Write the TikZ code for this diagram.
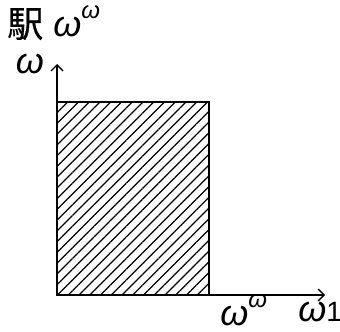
\documentclass[tikz,border=0pt]{standalone}
\usepackage{fontspec}
\setmainfont{Liberation Sans}
\newfontfamily\jpfont[FakeBold=0.6]{Noto Sans CJK JP}
\usetikzlibrary{arrows.meta,patterns.meta}
\newcommand{\om}{{\itshape ω}}
\newcommand{\omup}[1]{\om\raisebox{0.5em}{\fontsize{12}{12}\selectfont\itshape #1}}

\begin{document}
\begin{tikzpicture}[x=0.5pt,y=-0.5pt,
  lab/.style={font=\fontsize{18}{21}\selectfont,inner sep=0pt},
  hatch/.style={pattern={Lines[angle=45,distance=3.8pt,line width=0.6pt]}},
  ax/.style={-{Straight Barb[length=3pt]},line width=0.7pt}]
\useasboundingbox (0,0) rectangle (340,331);
\coordinate (o) at (57,295);
\coordinate (xe) at (325,295);
\coordinate (ye) at (57,64);
\coordinate (c) at (209,102);
\draw[hatch,line width=0.6pt] (o) rectangle (c);
\draw[ax] (o) -- (xe);
\draw[ax] (o) -- (ye);
\node[lab,anchor=base west] (title) at (7,37) {{\jpfont 駅} \omup{ω}};
\node[lab,anchor=base] (ylab) at (30,74) {\om};
\node[lab,anchor=base west] (xlab1) at (220,325) {\omup{ω}};
\node[lab,anchor=base west] (xlab2) at (298,321) {\om\raisebox{-0.05ex}{\fontsize{14}{14}\selectfont 1}};
\end{tikzpicture}
\end{document}
